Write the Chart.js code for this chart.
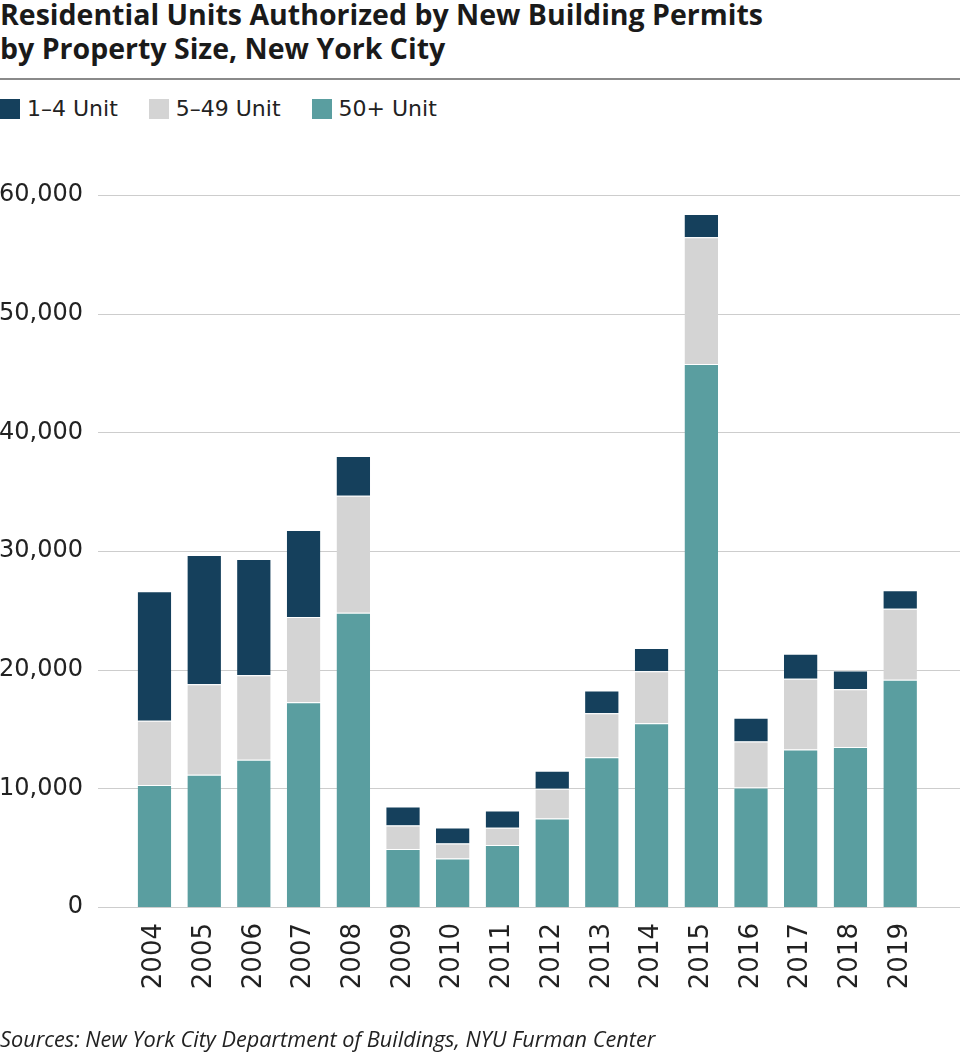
<!DOCTYPE html>
<html>
<head>
<meta charset="utf-8">
<script src="https://cdn.jsdelivr.net/npm/chart.js@4"></script>
<style>
  body { margin: 0; background: #fff; width: 960px; height: 1055px; position: relative; overflow: hidden; }
  #title { position: absolute; left: 0; top: -3px; font: 700 28.5px 'Open Sans', sans-serif; line-height: 34px; color: #1a1a1a; white-space: nowrap; }
  #rule { position: absolute; left: 0; top: 78px; width: 960px; height: 1.5px; background: #8a8a8a; }
  #legend { position: absolute; left: 0; top: 96px; display: flex; font: 22px 'DejaVu Sans', sans-serif; color: #222; }
  #legend .item { display: flex; align-items: center; margin-right: 31px; }
  #legend .box { width: 20px; height: 20px; margin-right: 7px; }
  #source { position: absolute; left: 0; top: 1024px; font: italic 21.7px 'Open Sans', sans-serif; color: #222; white-space: nowrap; }
  canvas { position: absolute; left: 0; top: 0; }
</style>
</head>
<body>
<div id="title">Residential Units Authorized by New Building Permits<br>by Property Size, New York City</div>
<div id="rule"></div>
<div id="legend"></div>
<canvas id="chart" width="960" height="1055"></canvas>
<div id="source">Sources: New York City Department of Buildings, NYU Furman Center</div>
<script>
const years = ['2004', '2005', '2006', '2007', '2008', '2009', '2010', '2011',
               '2012', '2013', '2014', '2015', '2016', '2017', '2018', '2019'];
const units50plus = [10280, 11150, 12400, 17250, 24800, 4890, 4080, 5220,
                     7450, 12620, 15480, 45750, 10060, 13280, 13480, 19150];
const units5to49 = [5420, 7620, 7130, 7180, 9850, 1970, 1270, 1450,
                    2510, 3710, 4380, 10700, 3880, 5950, 4860, 5990];
const units1to4 = [10900, 10900, 9800, 7350, 3350, 1610, 1350, 1470,
                   1520, 1920, 1960, 1950, 2010, 2110, 1600, 1550];
const yTicks = [0, 10000, 20000, 30000, 40000, 50000, 60000];

const tickFont = { family: "'DejaVu Sans', sans-serif", size: 24 };

// horizontal grid lines run wider than the bar area
const wideGrid = {
    id: 'wideGrid',
    beforeDatasetsDraw(chart) {
        const ctx = chart.ctx;
        const y = chart.scales.y;
        ctx.save();
        ctx.strokeStyle = '#cdcdcd';
        ctx.lineWidth = 1.2;
        yTicks.forEach(v => {
            const py = Math.round(y.getPixelForValue(v)) + 0.5;
            ctx.beginPath();
            ctx.moveTo(98, py);
            ctx.lineTo(960, py);
            ctx.stroke();
        });
        ctx.restore();
    }
};

const seg = { top: 1, left: 0, right: 0, bottom: 0 };

const chart = new Chart(document.getElementById('chart'), {
    type: 'bar',
    data: {
        labels: years,
        datasets: [
            { label: '1–4 Unit', data: units1to4, backgroundColor: '#15405c', order: 3 },
            { label: '5–49 Unit', data: units5to49, backgroundColor: '#d4d4d4', order: 2 },
            { label: '50+ Unit', data: units50plus, backgroundColor: '#5a9ea0', order: 1 }
        ].map(d => Object.assign(d, { borderColor: '#ffffff', borderWidth: seg, borderSkipped: false,
                                       barPercentage: 0.675, categoryPercentage: 1 }))
    },
    options: {
        responsive: false,
        animation: false,
        layout: { padding: { top: 195, left: 0, right: 35, bottom: 48 } },
        plugins: { legend: { display: false }, tooltip: { enabled: false } },
        scales: {
            x: {
                stacked: true,
                grid: { display: false, drawTicks: false },
                border: { display: false },
                ticks: { color: '#222', font: { ...tickFont, size: 26 }, minRotation: 90, maxRotation: 90, padding: 16 },
                afterFit: s => { s.height = 100; }
            },
            y: {
                stacked: true,
                min: 0,
                max: 60000,
                afterBuildTicks: s => { s.ticks = yTicks.map(v => ({ value: v })); },
                grid: { display: false, drawTicks: false },
                border: { display: false },
                ticks: { color: '#222', font: tickFont, padding: 46.6,
                         callback: v => Number(v).toLocaleString('en-US') },
                afterFit: s => { s.width = 129.6; }
            }
        }
    },
    plugins: [wideGrid]
});

const legend = document.getElementById('legend');
chart.data.datasets.forEach(d => {
    const item = document.createElement('div');
    item.className = 'item';
    item.innerHTML = `<span class="box" style="background:${d.backgroundColor}"></span><span>${d.label}</span>`;
    legend.appendChild(item);
});
</script>
</body>
</html>
